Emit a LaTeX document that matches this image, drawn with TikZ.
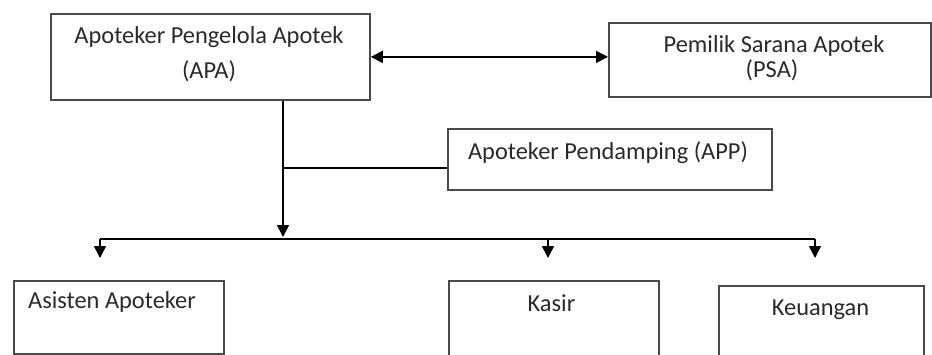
\documentclass[tikz,border=0pt]{standalone}
\usepackage{fontspec}
\setmainfont{Carlito}
\usetikzlibrary{arrows.meta}
\definecolor{boxline}{HTML}{4A4A4A}
\definecolor{txt}{HTML}{2A2A2A}
\tikzset{
  orgbox/.style={draw=boxline, line width=1.8pt, rectangle, inner sep=0pt, anchor=north west},
  lbl/.style={inner sep=0pt, text=txt, font=\fontsize{24.4}{29}\selectfont},
  conn/.style={draw=black, line width=1.6pt},
  tip/.style={-{Triangle[length=12pt,width=12pt]}},
  tips/.style={{Triangle[length=12pt,width=12pt]}-{Triangle[length=12pt,width=12pt]}}
}
\begin{document}
\begin{tikzpicture}[x=1pt,y=-1pt]
\useasboundingbox (0,0) rectangle (932,354);
\clip (0,0) rectangle (932,354);
\fill[white] (0,0) rectangle (932,354);
% boxes
\node[orgbox, minimum width=319pt, minimum height=86pt] (apa) at (50,13) {};
\node[orgbox, minimum width=322pt, minimum height=74pt] (psa) at (608,22) {};
\node[orgbox, minimum width=324pt, minimum height=61pt] (app) at (447,128) {};
\node[orgbox, minimum width=210pt, minimum height=73pt] (asis) at (13,280) {};
\node[orgbox, minimum width=210pt, minimum height=100pt] (kasir) at (448,280) {};
\node[orgbox, minimum width=205pt, minimum height=100pt] (keu) at (718,285) {};
% labels
\node[lbl] (apa1) at (209,37) {Apoteker Pengelola Apotek};
\node[lbl] (apa2) at (209,71) {(APA)};
\node[lbl] (psa1) at (774,46) {Pemilik Sarana Apotek};
\node[lbl] (psa2) at (772,70) {(PSA)};
\node[lbl] (app1) at (608,153) {Apoteker Pendamping (APP)};
\node[lbl] (asis1) at (112,302) {Asisten Apoteker};
\node[lbl] (kasir1) at (551.5,303) {Kasir};
\node[lbl] (keu1) at (820.5,310) {Keuangan};
% connectors
\draw[conn, tips] (apa.east) -- (apa.east -| psa.west);
\coordinate (j) at (283,168);
\coordinate (bus) at (283,237);
\draw[conn, tip] (apa.south -| bus) -- (bus);
\draw[conn] (j) -- (j -| app.west);
\coordinate (busL) at (100,239);
\coordinate (busM) at (548,239);
\coordinate (busR) at (815,239);
\draw[conn] (busL) -- (busR);
\coordinate (eL) at (100,258);
\coordinate (eM) at (548,258);
\coordinate (eR) at (815,258);
\draw[conn, tip] (busL) -- (eL);
\draw[conn, tip] (busM) -- (eM);
\draw[conn, tip] (busR) -- (eR);
\end{tikzpicture}
\end{document}
